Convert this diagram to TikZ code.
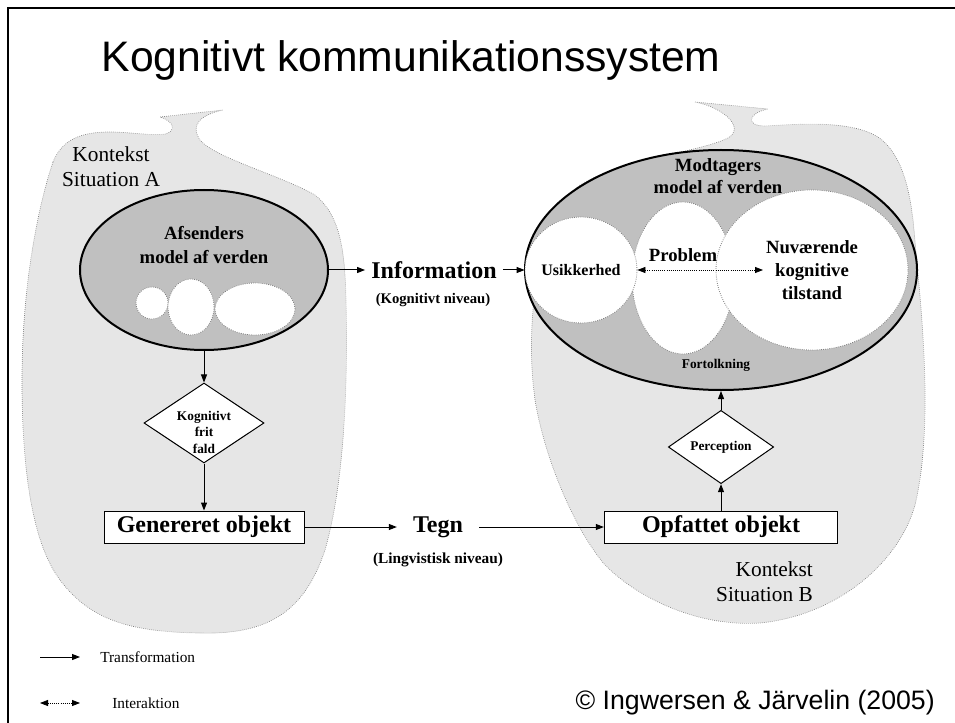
\documentclass[tikz,border=0pt]{standalone}
\usepackage{fontspec}
\setmainfont{Liberation Serif}
\newfontfamily\arialfont{Liberation Sans}
\usepackage{tikz}
\usetikzlibrary{shapes.geometric,arrows.meta}
\definecolor{ctxgray}{HTML}{E6E6E6}
\definecolor{modelgray}{HTML}{C0C0C0}
\definecolor{edgegray}{HTML}{808080}

\tikzset{
    blob/.style={fill=ctxgray, draw=edgegray, densely dotted, line width=0.5pt},
    model/.style={ellipse, draw, line width=1.5pt, fill=modelgray, inner sep=0pt},
    bubble/.style={ellipse, draw=edgegray, densely dotted, line width=0.6pt, fill=white, inner sep=0pt},
    cond/.style={diamond, draw, line width=0.75pt, fill=white, inner sep=0pt},
    objbox/.style={draw, line width=0.75pt, fill=white, minimum height=24pt, inner sep=0pt,
        font=\bfseries\fontsize{18}{20}\selectfont},
    trans/.style={line width=0.75pt, -{Triangle[length=6pt,width=4.5pt]}},
    inter/.style={line width=0.6pt, densely dotted, {Triangle[length=6pt,width=4.5pt]}-{Triangle[length=6pt,width=4.5pt]}},
    ctx/.style={font=\fontsize{16}{19}\selectfont, inner sep=0pt}
}

\begin{document}
\begin{tikzpicture}[x=0.75pt,y=-0.75pt]
                \useasboundingbox (0,0) rectangle (955,723);

                \draw[blob] (53,162) .. controls (62,140) and (80,132) .. (110,132)
                    .. controls (130,132) and (150,136) .. (165,134)
                    .. controls (175,132) and (176,122) .. (160,117) -- (223,110)
                    .. controls (200,115) and (190,125) .. (200,140)
                    .. controls (215,158) and (280,175) .. (315,195)
                    .. controls (340,215) and (345,250) .. (346,300)
                    .. controls (348,380) and (345,480) .. (325,550)
                    .. controls (305,610) and (270,635) .. (200,633)
                    .. controls (130,632) and (90,620) .. (60,580)
                    .. controls (30,540) and (22,460) .. (22,380)
                    .. controls (22,280) and (40,200) .. (53,162) -- cycle;
                \draw[blob] (695,102) -- (768,109)
                    .. controls (748,113) and (745,126) .. (765,126)
                    .. controls (800,124) and (850,120) .. (878,137)
                    .. controls (900,152) and (910,185) .. (914,230)
                    .. controls (920,300) and (935,420) .. (915,505)
                    .. controls (900,560) and (840,615) .. (760,623)
                    .. controls (700,627) and (640,600) .. (605,565)
                    .. controls (575,530) and (545,460) .. (535,400)
                    .. controls (525,330) and (535,220) .. (580,185)
                    .. controls (620,160) and (700,152) .. (728,138)
                    .. controls (745,128) and (725,108) .. (695,102) -- cycle;
                \draw[line width=1.9pt] (8,723) -- (8,8) -- (955,8);

                \node[anchor=base west, font=\arialfont\fontsize{32}{38}\selectfont] (title) at (97,72) {Kognitivt kommunikationssystem};

                \node[ctx, align=center] (ctxA) at (111,167) {Kontekst\\Situation A};
                \node[ctx, align=right, anchor=east] (ctxB) at (813,582) {Kontekst\\Situation B};

                \node[model, minimum width=186pt, minimum height=120pt] (afs) at (204,270) {};
                \foreach \name/\x/\y/\w/\h in {
                    afsA/152/303/24/24,
                    afsB/191/307/34.5/42,
                    afsC/255/309/60/39
                } {
                    \node[bubble, minimum width=\w pt, minimum height=\h pt] (\name) at (\x,\y) {};
                };
                \node[align=center, font=\bfseries\fontsize{14}{18}\selectfont] (afsTxt) at (204,245) {Afsenders\\model af verden};

                \node[model, minimum width=294pt, minimum height=180pt] (mod) at (721,270) {};
                \node[bubble, minimum width=76.5pt, minimum height=114pt] (prob) at (683,278) {};
                \node[bubble, minimum width=144pt, minimum height=120pt, align=center,
                    font=\bfseries\fontsize{14}{17}\selectfont] (nuv) at (812,270) {Nuværende\\kognitive\\tilstand};
                \node[bubble, minimum width=84pt, minimum height=79.5pt,
                    font=\bfseries\fontsize{12}{14}\selectfont] (usik) at (581,270) {Usikkerhed};
                \node[align=center, font=\bfseries\fontsize{14}{16.5}\selectfont] (modTxt) at (718,176) {Modtagers\\model af verden};
                \node[font=\bfseries\fontsize{14}{16}\selectfont] (probTxt) at (683,255) {Problem};
                \node[font=\bfseries\fontsize{10}{12}\selectfont] (fort) at (716,365) {Fortolkning};
                \coordinate (nuvTip) at (763,270);

                \node[cond, minimum width=90pt, minimum height=60pt] (kff) at (204,423) {};
                \node[align=center, font=\bfseries\fontsize{10}{12.4}\selectfont] (kffTxt) at (204,432) {Kognitivt\\frit\\fald};
                \node[cond, minimum width=79pt, minimum height=48pt, font=\bfseries\fontsize{10}{12}\selectfont] (perc) at (721,447) {Perception};
                \node[objbox, minimum width=150pt] (gen) at (204,527) {Genereret objekt};
                \node[objbox, minimum width=175pt] (opf) at (721,527) {Opfattet objekt};

                \node[inner xsep=4.5pt, font=\bfseries\fontsize{18}{20}\selectfont] (info) at (434,270) {Information};
                \node[font=\bfseries\fontsize{11}{13}\selectfont] (infoLvl) at (433,300) {(Kognitivt niveau)};
                \node[inner xsep=12pt, font=\bfseries\fontsize{18}{20}\selectfont] (tegn) at (438,527) {Tegn};
                \node[font=\bfseries\fontsize{11.5}{13}\selectfont] (tegnLvl) at (438,560) {(Lingvistisk niveau)};

                \draw[trans] (afs) -- (info);
                \draw[trans] (info) -- (usik);
                \draw[inter] (usik) -- (nuvTip);
                \draw[trans] (afs) -- (kff);
                \draw[trans] (kff) -- (gen);
                \draw[trans] (gen) -- (tegn);
                \draw[trans] (tegn) -- (opf);
                \draw[trans] (opf) -- (perc);
                \draw[trans] (perc) -- (mod);

                \foreach \y/\sty/\x/\txt in {
                    657/trans/100/Transformation,
                    703/inter/112/Interaktion
                } {
                    \coordinate (\sty-a) at (40,\y);
                    \coordinate (\sty-b) at (80,\y);
                    \draw[\sty] (\sty-a) -- (\sty-b);
                    \node[anchor=west, inner sep=0pt, font=\fontsize{11.5}{13}\selectfont] (\sty-txt) at (\x,\y) {\txt};
                };

                \node[anchor=east, inner sep=0pt, font=\arialfont\fontsize{20}{24}\selectfont] (copy) at (935,703) {© Ingwersen \& Järvelin (2005)};
\end{tikzpicture}
\end{document}
